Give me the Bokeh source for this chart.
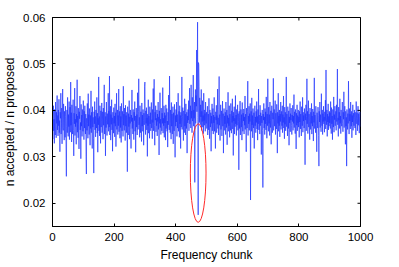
import math
from bokeh.plotting import figure
from bokeh.models import Range1d, FixedTicker
from bokeh.embed import file_html
from bokeh.resources import INLINE

# acceptance ratio per frequency chunk, in units of 1e-4
acc_e4 = [
372,338,395,410,356,381,329,402,364,347,418,385,341,396,372,432,358,389,345,401,
367,424,352,378,311,396,383,437,349,371,405,328,392,446,363,357,414,381,336,398,
375,342,409,387,321,258,366,401,352,428,379,344,391,365,419,337,382,407,353,461,
368,395,332,412,376,349,386,423,357,302,394,371,448,346,381,365,409,327,392,374,
466,353,388,341,405,369,317,397,382,431,358,374,296,413,366,390,344,402,379,355,
421,386,337,398,362,410,374,349,392,301,263,383,357,415,372,340,436,366,391,348,
404,377,325,389,361,442,352,396,373,318,408,364,385,339,265,397,371,419,358,387,
343,401,376,362,428,351,394,310,383,369,472,356,387,345,410,373,329,399,364,388,
416,352,379,397,338,405,368,383,455,349,371,396,302,387,363,418,378,346,393,370,
381,437,355,399,364,474,347,382,409,336,391,370,423,358,384,312,396,375,351,406,
372,388,343,414,366,395,322,380,437,359,376,401,348,389,367,446,354,382,398,340,
409,363,387,331,415,374,356,398,381,344,452,368,392,357,405,379,335,411,366,389,
352,396,374,268,408,381,347,393,365,421,338,386,372,401,359,318,390,376,444,361,
384,349,402,371,337,396,378,419,355,388,310,372,405,364,391,347,438,376,359,398,
468,369,385,342,410,375,352,397,381,333,416,366,390,355,402,378,325,394,369,452,
461,385,348,399,372,406,358,384,301,392,367,423,351,388,376,340,408,371,395,356,
389,417,362,380,339,402,374,447,356,391,467,368,325,396,379,410,354,383,367,401,
345,392,376,418,359,386,304,399,372,438,363,381,348,405,377,356,394,372,449,351,
383,367,410,342,395,373,389,336,412,361,384,404,355,377,321,396,369,433,381,358,
474,387,352,401,372,338,417,366,392,349,381,408,328,395,370,356,413,377,299,389,
366,402,375,418,344,391,362,383,437,355,376,398,342,410,371,389,318,396,364,385,
472,359,387,406,371,335,399,378,352,425,366,392,347,414,380,361,396,308,388,373,
402,379,421,356,394,448,371,387,410,362,455,383,399,352,428,377,389,476,366,401,
383,418,245,396,445,372,432,409,530,397,462,590,385,175,503,498,452,374,427,391,
369,412,386,445,357,398,376,421,364,389,350,437,378,401,368,393,355,418,380,372,
396,361,384,409,347,375,392,358,426,370,339,401,383,364,395,312,388,372,414,356,
381,404,349,390,373,428,355,386,366,318,397,379,411,352,389,370,446,361,384,347,
402,473,368,391,335,386,412,359,377,399,345,381,420,366,393,308,375,404,357,388,
371,396,348,418,380,363,401,326,389,372,439,355,384,367,410,342,392,378,357,415,
386,351,399,374,425,360,388,303,396,377,408,349,383,365,432,371,390,346,402,368,
384,412,357,393,376,272,398,361,385,420,347,379,402,364,391,336,417,372,355,394,
377,403,349,386,368,431,359,392,374,311,405,381,362,398,463,346,388,371,409,357,
393,376,415,207,382,398,355,427,369,389,341,404,376,362,395,318,383,410,367,386,
352,398,374,419,360,387,336,402,371,446,358,390,378,349,411,367,395,382,305,388,
373,401,357,234,392,379,415,362,386,348,404,371,397,358,429,376,340,392,367,468,
384,355,407,372,391,346,418,378,363,399,327,386,410,369,352,395,381,469,357,389,
402,366,387,421,348,394,375,360,413,381,308,396,372,437,355,388,367,401,343,392,
376,418,359,383,398,367,410,352,391,374,431,362,385,339,407,370,396,356,380,472,
365,392,377,345,408,384,361,399,325,386,373,415,354,393,379,405,368,348,390,376,
411,357,388,372,434,363,397,379,350,402,385,317,394,368,412,356,389,373,401,364,
386,342,398,375,419,360,392,371,345,408,381,367,428,353,396,377,389,362,404,370,
283,393,379,412,356,387,468,371,398,350,385,421,364,392,376,337,405,381,359,396,
372,415,349,388,366,403,380,334,397,374,470,361,390,377,352,409,386,368,311,395,
380,362,407,389,346,280,398,375,418,363,391,372,354,436,382,367,401,348,393,376,
409,371,386,353,397,378,422,360,487,384,369,401,344,392,375,414,358,387,366,398,
373,395,361,419,382,350,406,371,388,337,402,376,364,429,353,391,380,409,367,385,
398,357,412,376,391,489,369,384,344,407,379,396,361,425,372,388,350,401,383,366,
391,418,372,354,396,381,440,363,387,409,374,327,398,366,385,280,402,377,359,393,
372,463,385,349,404,377,392,360,418,383,366,398,341,389,375,412,357,394,380,367,
401,384,362,396,375,347,419,388,371,395,356,382,409,368,393,374,351,386,397,365,
]
accept_ratio = [v / 10000 for v in acc_e4]
chunks = list(range(len(accept_ratio)))

x_min, x_max = 0, 1000
y_min, y_max = 0.015, 0.06
x_ticks = [0, 200, 400, 600, 800, 1000]
y_ticks = [0.02, 0.03, 0.04, 0.05, 0.06]
y_tick_labels = ["0.02", "0.03", "0.04", "0.05", "0.06"]

# highlighted region (red ellipse)
ell_x, ell_y, ell_w, ell_h = 473, 0.0265, 51, 0.0212

FONT = "Liberation Sans"

p = figure(frame_width=308, frame_height=209,
           x_range=Range1d(x_min, x_max), y_range=Range1d(y_min, y_max),
           output_backend="svg", toolbar_location=None,
           min_border_left=46, min_border_top=17, min_border_right=22, min_border_bottom=30)
p.background_fill_color = "white"
p.border_fill_color = "white"
p.outline_line_color = "black"
p.outline_line_width = 1
p.grid.visible = False

p.line(chunks, accept_ratio, line_color="#1f34ff", line_width=0.8, line_alpha=0.85)
p.ellipse(x=[ell_x], y=[ell_y], width=[ell_w], height=[ell_h], fill_color=None,
          line_color="#ff2a2a", line_width=1)

# inward ticks on the top and right edges of the box (clipped to the frame)
p.scatter(x=x_ticks, y=[y_max] * len(x_ticks), marker="dash", size=6, angle=math.pi / 2,
          line_color="black", line_width=1)
p.scatter(x=[x_max] * len(y_ticks), y=y_ticks, marker="dash", size=6,
          line_color="black", line_width=1)

def style(ax):
    ax.major_tick_in = 3
    ax.major_tick_out = 0
    ax.minor_tick_line_color = None
    ax.axis_line_color = "black"
    ax.major_tick_line_color = "black"
    ax.major_label_text_font = FONT
    ax.major_label_text_color = "black"
    ax.major_label_text_font_size = "11.5px"
    ax.axis_label_text_font = FONT
    ax.axis_label_text_font_style = "normal"
    ax.axis_label_text_font_size = "12px"
    ax.axis_label_text_color = "black"

xa = p.xaxis[0]
xa.ticker = FixedTicker(ticks=x_ticks)
xa.axis_label = "Frequency chunk"
style(xa)
xa.major_label_standoff = 6
xa.axis_label_standoff = 4

ya = p.yaxis[0]
ya.ticker = FixedTicker(ticks=y_ticks)
ya.major_label_overrides = {t: l for t, l in zip(y_ticks, y_tick_labels)}
ya.axis_label = "n accepted / n proposed"
style(ya)
ya.major_label_standoff = 7
ya.axis_label_standoff = 3

open("out.html", "w").write(file_html(p, INLINE))
